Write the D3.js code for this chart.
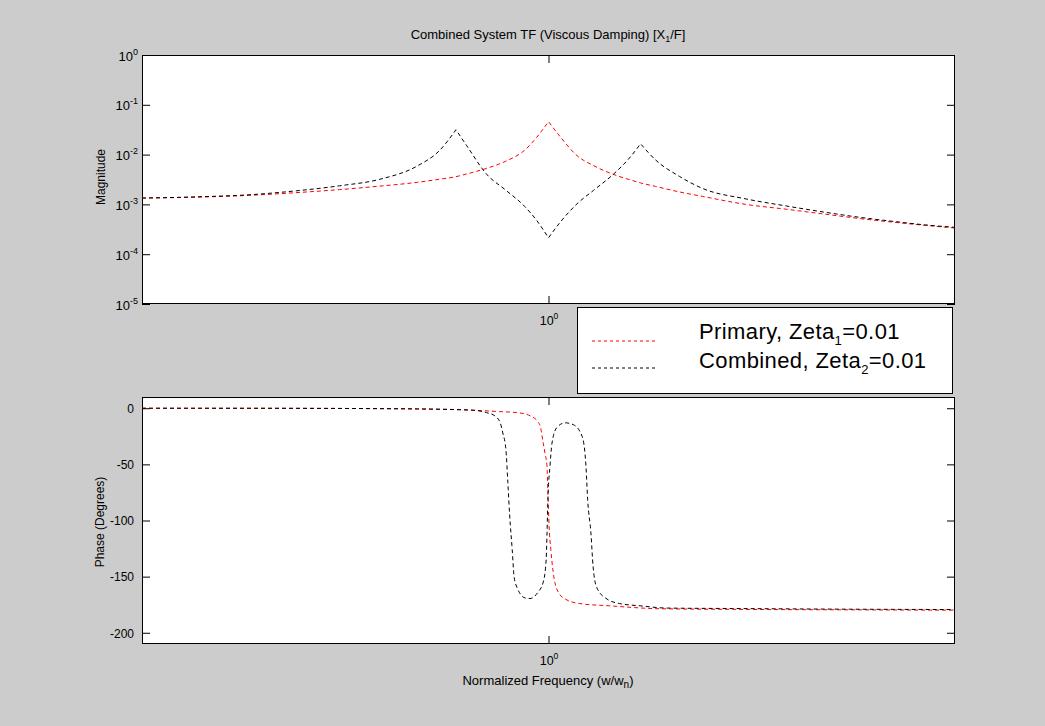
<!DOCTYPE html>
<html><head><meta charset="utf-8">
<script src="https://cdn.jsdelivr.net/npm/d3@7"></script>
<style>
body{margin:0;background:#cccccc;}
svg{display:block;}
text{font-family:"Liberation Sans",Arial,Helvetica,sans-serif;fill:#000;}
</style>
</head><body>
<svg id="c" width="1045" height="726"></svg>
<script>
// ---------- data ----------
const magFreq = [0.5, 0.55, 0.6, 0.65, 0.7, 0.75, 0.8, 0.83, 0.854, 0.87, 0.9, 0.93, 0.96, 0.98, 1.0, 1.02, 1.05, 1.08, 1.12, 1.15, 1.17, 1.2, 1.25, 1.3, 1.4, 1.5, 1.6, 1.7, 1.8, 1.9, 2.0];
const primaryMag = [1.34e-3, 1.40e-3, 1.52e-3, 1.72e-3, 1.98e-3, 2.33e-3, 2.78e-3, 3.2e-3, 3.6e-3, 4.1e-3, 5.3e-3, 7.4e-3, 1.22e-2, 2.22e-2, 4.6e-2, 2.3e-2, 9.5e-3, 6.0e-3, 3.9e-3, 3.1e-3, 2.7e-3, 2.3e-3, 1.78e-3, 1.45e-3, 1.0e-3, 8.0e-4, 6.4e-4, 5.2e-4, 4.4e-4, 3.8e-4, 3.35e-4];
const combinedMag = [1.34e-3, 1.42e-3, 1.56e-3, 1.87e-3, 2.36e-3, 3.19e-3, 5.96e-3, 1.19e-2, 3.15e-2, 1.50e-2, 4.02e-3, 1.92e-3, 9.14e-4, 4.78e-4, 2.13e-4, 4.36e-4, 1.03e-3, 1.92e-3, 4.31e-3, 9.03e-3, 1.65e-2, 7.86e-3, 3.66e-3, 2.10e-3, 1.29e-3, 9.3e-4, 7.0e-4, 5.5e-4, 4.56e-4, 3.88e-4, 3.46e-4];

const primaryPhaseFreq = [0.5, 0.6, 0.7, 0.75, 0.8, 0.85, 0.88, 0.92, 0.95, 0.97, 0.982, 0.986, 0.991, 0.994, 0.9975, 0.999, 1.001, 1.004, 1.008, 1.016, 1.029, 1.055, 1.11, 1.21, 1.4, 1.7, 2.0];
const primaryPhase = [0, -0.1, -0.2, -0.4, -0.7, -1.1, -1.8, -3, -4, -7, -12, -16, -31, -40, -52, -75, -105, -126, -146, -163, -170, -174, -176, -178.6, -179.2, -179.6, -179.9];
const combinedPhaseFreq = [0.5, 0.6, 0.7, 0.8, 0.85, 0.88, 0.9, 0.913, 0.921, 0.925, 0.93, 0.933, 0.936, 0.94, 0.943, 0.948, 0.961, 0.969, 0.982, 0.991, 0.996, 0.9975, 0.999, 1.0025, 1.006, 1.0146, 1.029, 1.043, 1.059, 1.066, 1.069, 1.075, 1.079, 1.086, 1.105, 1.129, 1.169, 1.224, 1.369, 1.67, 2.0];
const combinedPhase = [0, 0, -0.2, -0.6, -1.2, -1.8, -4, -7, -13, -22, -37, -66, -96, -126, -150, -160, -169, -169.5, -164, -155, -135, -111, -81, -52, -31, -17, -13, -14.6, -25, -52, -81, -111, -141, -160, -170, -174, -176, -178, -178.4, -179, -179.3];

const magTicks = [1e-5, 1e-4, 1e-3, 1e-2, 1e-1, 1];
const magTickExp = ["-5", "-4", "-3", "-2", "-1", "0"];
const phaseTicks = [-200, -150, -100, -50, 0];
const freqTicks = [1];
const freqTickExp = ["0"];
const legendNames = ["Primary, Zeta", "Combined, Zeta"];
const legendSubs = ["1", "2"];
const legendTails = ["=0.01", "=0.01"];
const seriesColors = ["#ff0000", "#000000"];

// ---------- layout ----------
const W = 1045, H = 726;
const L = 142, R = 955;
const P1 = {t: 55, b: 304}, P2 = {t: 397, b: 644};
const svg = d3.select("#c");
svg.append("rect").attr("width", W).attr("height", H).attr("fill", "#cccccc");

const x = d3.scaleLog().domain([0.5, 2]).range([L, R]);
const yM = d3.scaleLog().domain([1e-5, 1]).range([P1.b, P1.t]);
const yP = d3.scaleLinear().domain([-210, 10]).range([P2.b, P2.t]);

const FONT = '"Liberation Sans",Arial,Helvetica,sans-serif';

function drawPanel(p, yScale, yTicks, id, logY) {
  svg.append("rect").attr("x", L).attr("y", p.t).attr("width", R - L).attr("height", p.b - p.t).attr("fill", "#fff");
  svg.append("clipPath").attr("id", id).append("rect")
    .attr("x", L).attr("y", p.t).attr("width", R - L).attr("height", p.b - p.t);

  const gl = svg.append("g").attr("transform", `translate(${L},0)`)
    .call(d3.axisLeft(yScale).tickValues(yTicks).tickSizeInner(-8).tickSizeOuter(0).tickPadding(logY ? 4 : 8));
  const gr = svg.append("g").attr("transform", `translate(${R},0)`)
    .call(d3.axisRight(yScale).tickValues(yTicks).tickSizeInner(-8).tickSizeOuter(0).tickFormat(""));
  const gb = svg.append("g").attr("transform", `translate(0,${p.b})`)
    .call(d3.axisBottom(x).tickValues(freqTicks).tickSizeInner(-8).tickSizeOuter(0).tickPadding(0));
  const gt = svg.append("g").attr("transform", `translate(0,${p.t})`)
    .call(d3.axisTop(x).tickValues(freqTicks).tickSizeInner(-8).tickSizeOuter(0).tickFormat(""));
  [gl, gr, gb, gt].forEach(g => {
    g.select(".domain").remove();
    g.selectAll(".tick line").attr("stroke", "#000");
    g.attr("font-family", FONT).attr("font-size", 12);
  });

  if (logY) {
    gl.selectAll(".tick text").each(function(d) {
      const t = d3.select(this).text("").attr("dy", null).attr("y", 5).attr("font-size", 13);
      t.append("tspan").text("10");
      t.append("tspan").attr("dy", -6).attr("font-size", 9).text(magTickExp[magTicks.indexOf(d)]);
    });
  } else {
    gl.selectAll(".tick text").attr("dy", null).attr("y", 4.3).text(d => String(d));
  }
  gb.selectAll(".tick text").each(function(d, i) {
    const t = d3.select(this).text("").attr("dy", null).attr("y", 21).attr("font-size", 12.5);
    t.append("tspan").text("10");
    t.append("tspan").attr("dy", -6).attr("font-size", 8.5).text(freqTickExp[i]);
  });

  svg.append("rect").attr("x", L + 0.5).attr("y", p.t + 0.5).attr("width", R - L - 1).attr("height", p.b - p.t - 1)
    .attr("fill", "none").attr("stroke", "#000").attr("stroke-width", 1);
}

drawPanel(P1, yM, magTicks, "clipTop", true);
drawPanel(P2, yP, phaseTicks, "clipBot", false);

// ---------- curves ----------
// Magnitude: smooth flanks, sharp sampled peaks -> split at local extrema
function segmentPath(freqs, vals, yScale) {
  const pts = freqs.map((f, i) => [x(f), yScale(vals[i])]);
  const breaks = [0];
  for (let i = 1; i < vals.length - 1; i++) {
    if ((vals[i] - vals[i - 1]) * (vals[i + 1] - vals[i]) < 0) breaks.push(i);
  }
  breaks.push(vals.length - 1);
  const line = d3.line().curve(d3.curveMonotoneX);
  let d = "";
  for (let k = 0; k < breaks.length - 1; k++) {
    const seg = pts.slice(breaks[k], breaks[k + 1] + 1);
    let s = line(seg);
    if (k > 0) s = s.replace(/^M[^CLZ]*/, "");
    d += s;
  }
  return d;
}
function drawMag(vals, color) {
  svg.append("path").attr("d", segmentPath(magFreq, vals, yM)).attr("clip-path", "url(#clipTop)")
    .attr("fill", "none").attr("stroke", color).attr("stroke-width", 1).attr("stroke-dasharray", "4,3");
}
function drawPhase(freqs, vals, color) {
  const line = d3.line().x(d => x(d[0])).y(d => yP(d[1])).curve(d3.curveMonotoneX);
  svg.append("path").datum(freqs.map((f, i) => [f, vals[i]])).attr("d", line).attr("clip-path", "url(#clipBot)")
    .attr("fill", "none").attr("stroke", color).attr("stroke-width", 1).attr("stroke-dasharray", "4,3");
}
drawMag(primaryMag, seriesColors[0]);
drawMag(combinedMag, seriesColors[1]);
drawPhase(primaryPhaseFreq, primaryPhase, seriesColors[0]);
drawPhase(combinedPhaseFreq, combinedPhase, seriesColors[1]);

// ---------- texts ----------
const title = svg.append("text").attr("x", 548).attr("y", 39).attr("text-anchor", "middle").attr("font-size", 13);
title.append("tspan").text("Combined System TF (Viscous Damping) [X");
title.append("tspan").attr("dy", 3).attr("font-size", 9).text("1");
title.append("tspan").attr("dy", -3).text("/F]");

svg.append("text").attr("transform", `translate(105,177) rotate(-90)`).attr("text-anchor", "middle")
  .attr("font-size", 12).text("Magnitude");
svg.append("text").attr("transform", `translate(104,522) rotate(-90)`).attr("text-anchor", "middle")
  .attr("font-size", 12).text("Phase (Degrees)");

const xl = svg.append("text").attr("x", 548).attr("y", 685).attr("text-anchor", "middle").attr("font-size", 13);
xl.append("tspan").text("Normalized Frequency (w/w");
xl.append("tspan").attr("dy", 3).attr("font-size", 10).text("n");
xl.append("tspan").attr("dy", -3).text(")");

// ---------- legend ----------
const lg = svg.append("g");
lg.append("rect").attr("x", 577.5).attr("y", 307.5).attr("width", 375).attr("height", 86)
  .attr("fill", "#fff").attr("stroke", "#000").attr("stroke-width", 1);
legendNames.forEach((name, i) => {
  const yy = 339 + i * 29;
  lg.append("line").attr("x1", 592).attr("x2", 656).attr("y1", yy + 2 - i * 2).attr("y2", yy + 2 - i * 2)
    .attr("stroke", seriesColors[i]).attr("stroke-width", 1).attr("stroke-dasharray", "3,3");
  const t = lg.append("text").attr("x", 699).attr("y", yy).attr("font-size", 22).attr("letter-spacing", 0.4);
  t.append("tspan").text(name);
  t.append("tspan").attr("dy", 6).attr("font-size", 13).text(legendSubs[i]);
  t.append("tspan").attr("dy", -6).text(legendTails[i]);
});
</script>
</body></html>
